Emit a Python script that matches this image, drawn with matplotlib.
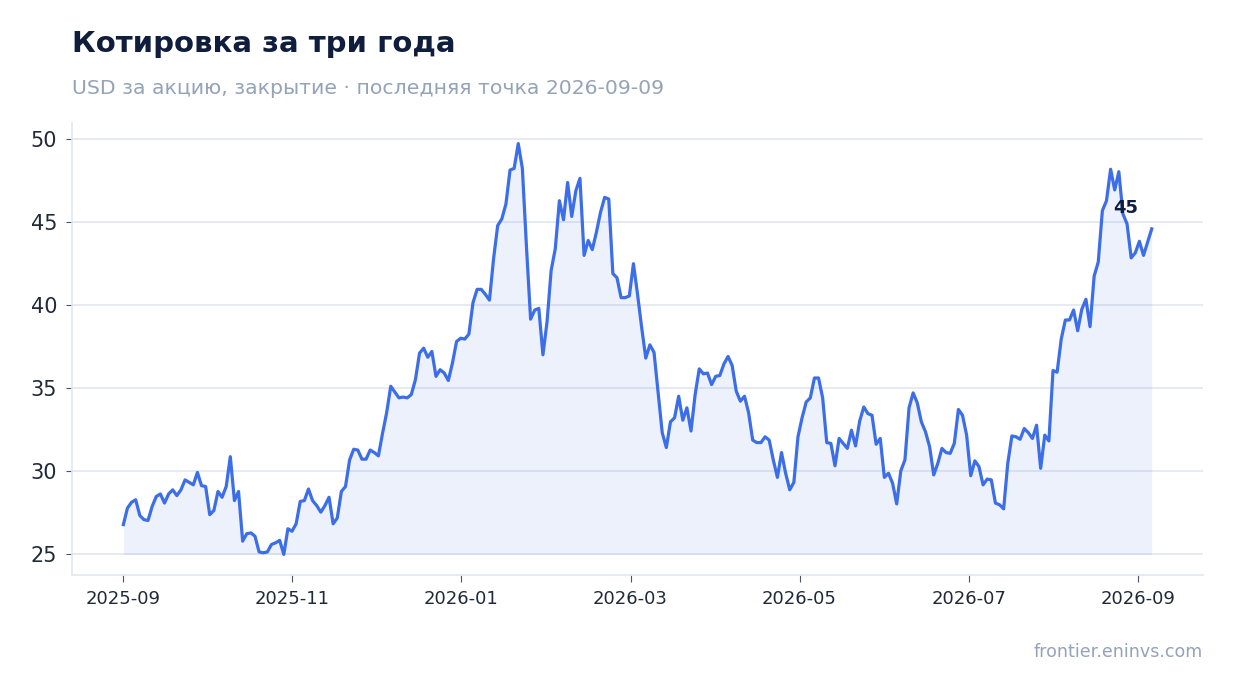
import numpy as np
import pandas as pd
import matplotlib
matplotlib.use("Agg")
import matplotlib.pyplot as plt
import matplotlib.dates as mdates
from matplotlib.ticker import MultipleLocator

# данные: закрытие, USD за акцию
start_date = "2025-09-09"
end_date = "2026-09-09"
close_prices = [
    26.75, 27.75, 28.1, 28.25, 27.3, 27.05, 27.0, 27.85, 28.45, 28.6,
    28.05, 28.6, 28.85, 28.5, 28.85, 29.45, 29.3, 29.15, 29.9, 29.1,
    29.05, 27.35, 27.6, 28.75, 28.4, 29.05, 30.85, 28.2, 28.75, 25.75,
    26.2, 26.25, 26.05, 25.1, 25.05, 25.1, 25.55, 25.65, 25.8, 24.95,
    26.5, 26.35, 26.8, 28.15, 28.2, 28.9, 28.2, 27.9, 27.5, 27.9,
    28.4, 26.8, 27.15, 28.75, 29.05, 30.65, 31.3, 31.25, 30.7, 30.7,
    31.25, 31.1, 30.9, 32.25, 33.5, 35.1, 34.75, 34.4, 34.45, 34.4,
    34.6, 35.5, 37.1, 37.4, 36.85, 37.2, 35.7, 36.1, 35.9, 35.45,
    36.5, 37.8, 38.0, 37.95, 38.25, 40.15, 40.95, 40.95, 40.65, 40.3,
    42.8, 44.8, 45.2, 46.1, 48.15, 48.25, 49.75, 48.25, 43.5, 39.15,
    39.7, 39.8, 37.0, 39.0, 42.1, 43.4, 46.3, 45.15, 47.4, 45.35,
    46.9, 47.65, 43.0, 43.9, 43.35, 44.4, 45.6, 46.5, 46.4, 41.9,
    41.65, 40.45, 40.45, 40.55, 42.5, 40.65, 38.65, 36.8, 37.6, 37.15,
    34.7, 32.3, 31.4, 32.95, 33.2, 34.5, 33.05, 33.8, 32.4, 34.6,
    36.15, 35.85, 35.9, 35.2, 35.7, 35.75, 36.45, 36.9, 36.35, 34.8,
    34.2, 34.5, 33.5, 31.85, 31.7, 31.7, 32.05, 31.85, 30.65, 29.6,
    31.1, 29.85, 28.85, 29.3, 32.05, 33.2, 34.15, 34.4, 35.6, 35.6,
    34.4, 31.7, 31.65, 30.3, 31.95, 31.65, 31.35, 32.45, 31.5, 33.0,
    33.85, 33.45, 33.35, 31.6, 31.95, 29.6, 29.85, 29.25, 28.0, 30.0,
    30.65, 33.8, 34.7, 34.1, 32.95, 32.35, 31.45, 29.75, 30.45, 31.35,
    31.1, 31.05, 31.65, 33.7, 33.35, 32.15, 29.7, 30.6, 30.25, 29.15,
    29.5, 29.45, 28.05, 27.95, 27.7, 30.45, 32.1, 32.05, 31.9, 32.55,
    32.3, 31.95, 32.75, 30.15, 32.15, 31.8, 36.05, 35.95, 37.95, 39.1,
    39.1, 39.7, 38.45, 39.75, 40.35, 38.7, 41.75, 42.6, 45.7, 46.3,
    48.2, 46.95, 48.05, 45.5, 44.9, 42.85, 43.15, 43.85, 43.0, 43.8,
    44.6,
]
dates = pd.date_range(start_date, end_date, periods=len(close_prices))

title = "Котировка за три года"
subtitle = "USD за акцию, закрытие · последняя точка 2026-09-09"
source = "frontier.eninvs.com"

line_color = "#3b6ee8"
grid_color = "#e2e8f0"

fig = plt.figure(figsize=(12.34, 6.93), dpi=100)
ax = fig.add_axes([0.0583, 0.1703, 0.9167, 0.6522])

y = np.array(close_prices)
ax.fill_between(dates, y, y.min(), color=line_color, alpha=0.09, linewidth=0)
ax.plot(dates, y, color=line_color, linewidth=2.3)

# подпись последнего значения
ax.annotate(f"{y[-1]:.0f}", xy=(dates[-1], y[-1]), xytext=(-19, 15),
            textcoords="offset points", ha="center", va="center",
            fontsize=13, fontweight="bold", color="#0f1e3d")

ax.xaxis.set_major_locator(MultipleLocator(60))
ax.xaxis.set_major_formatter(mdates.DateFormatter("%Y-%m"))

ax.grid(axis="y", color=grid_color, linewidth=1.2)
ax.set_axisbelow(True)
for side in ["top", "right"]:
    ax.spines[side].set_visible(False)
for side in ["left", "bottom"]:
    ax.spines[side].set_color(grid_color)
    ax.spines[side].set_linewidth(1.2)
ax.tick_params(axis="y", labelsize=15, colors="#1f2937", length=4.5, pad=6)
ax.tick_params(axis="x", labelsize=13, colors="#1f2937", length=5, pad=6)
ax.tick_params(axis="both", color="#475569")

fig.text(0.0583, 1 - 44 / 693, title, fontsize=21, fontweight="bold",
         color="#0f1e3d", va="center", ha="left")
fig.text(0.0583, 1 - 88 / 693, subtitle, fontsize=14.7, color="#94a3b8",
         va="center", ha="left")
fig.text(0.975, 1 - 652 / 693, source, fontsize=12.6, color="#94a3b8",
         va="center", ha="right")

fig.savefig("out.png", dpi=100)
